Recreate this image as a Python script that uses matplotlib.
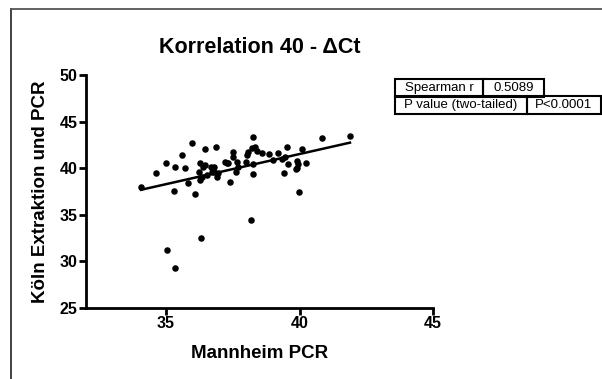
import numpy as np
import matplotlib
matplotlib.use("Agg")
import matplotlib.pyplot as plt
from matplotlib.patches import Rectangle
from matplotlib.lines import Line2D

plt.rcParams['font.family'] = ['Liberation Sans', 'DejaVu Sans']

# ---- data ----
mannheim = [34.06, 34.61, 34.99, 35.33, 35.30, 35.60, 35.70, 35.81, 35.97, 36.09,
            35.05, 35.35, 36.31, 38.17, 39.98, 36.46, 36.88, 36.27, 36.24, 36.40,
            36.34, 36.27, 36.52, 36.69, 36.81, 36.71, 36.90, 36.96, 37.21, 37.33,
            37.40, 37.52, 37.52, 37.65, 37.68, 37.61, 37.98, 38.02, 38.08, 38.27,
            38.21, 38.33, 38.40, 38.27, 38.27, 38.61, 38.86, 39.02, 39.18, 39.33,
            39.46, 39.54, 39.55, 39.41, 39.92, 39.94, 39.89, 39.86, 40.08, 40.25,
            40.84, 41.89, 36.45, 36.80, 37.27]
koeln = [37.95, 39.45, 40.56, 40.13, 37.52, 41.38, 39.99, 38.41, 42.67, 37.20,
         31.26, 29.33, 32.54, 34.44, 37.45, 42.03, 42.27, 40.53, 39.63, 40.16,
         39.09, 38.73, 39.27, 40.16, 40.10, 39.63, 39.09, 39.45, 40.70, 40.53,
         38.55, 41.77, 41.23, 40.70, 40.16, 39.63, 40.63, 41.42, 41.77, 43.38,
         42.13, 42.24, 41.88, 40.45, 39.38, 41.60, 41.52, 40.88, 41.66, 40.95,
         41.23, 42.24, 40.42, 39.45, 40.77, 40.42, 39.99, 39.88, 42.03, 40.59,
         43.27, 43.42, 40.35, 39.55, 40.60]
x_ticks = [35, 40, 45]
y_ticks = [25, 30, 35, 40, 45, 50]
table_rows = [["Spearman r", "0.5089"], ["P value (two-tailed)", "P<0.0001"]]

W, H = 602, 379
fig = plt.figure(figsize=(W / 100, H / 100), dpi=100)
fig.patch.set_facecolor('white')

def fx(px):
    return px / W

def fy(py):
    return 1 - py / H

ax = fig.add_axes([fx(86), fy(308), fx(433) - fx(86), fy(75) - fy(308)])
ax.scatter(mannheim, koeln, s=22, color='black', zorder=3, linewidths=0)

xs = np.array(mannheim)
ys = np.array(koeln)
slope, intercept = np.polyfit(xs, ys, 1)
lx = np.array([xs.min(), xs.max()])
ax.plot(lx, slope * lx + intercept, color='black', lw=1.8, zorder=2)

ax.set_xlim(32, 45)
ax.set_ylim(25, 50)
ax.set_xticks(x_ticks)
ax.set_yticks(y_ticks)
for s in ['top', 'right']:
    ax.spines[s].set_visible(False)
for s in ['left', 'bottom']:
    ax.spines[s].set_linewidth(2)
ax.tick_params(width=2, length=5, labelsize=11.5, pad=1)
for lab in ax.get_xticklabels() + ax.get_yticklabels():
    lab.set_fontweight('bold')
ax.set_xlabel('Mannheim PCR', fontsize=13.5, fontweight='bold', labelpad=10)
ax.set_ylabel('Köln Extraktion und PCR', fontsize=13.5, fontweight='bold', labelpad=8)
ax.set_title('Korrelation 40 - ΔCt', fontsize=15.5, fontweight='bold', pad=16)

# figure frame (left and top)
fig.add_artist(Line2D([fx(11), fx(11)], [fy(9), 0], color='#333333', lw=1.3))
fig.add_artist(Line2D([fx(11), 1], [fy(9), fy(9)], color='#555555', lw=1.3))

# results table
rows_y = [(79, 96.5), (96.5, 114)]
cols = [[395, 483, 544], [395, 527, 601]]
for r, (y0, y1) in enumerate(rows_y):
    c = cols[r]
    for i in range(2):
        rect = Rectangle((fx(c[i]), fy(y1)), fx(c[i + 1]) - fx(c[i]), fy(y0) - fy(y1),
                         transform=fig.transFigure, fill=False, edgecolor='black', lw=1.5)
        fig.add_artist(rect)
        fig.text(fx((c[i] + c[i + 1]) / 2), fy((y0 + y1) / 2), table_rows[r][i],
                 ha='center', va='center', fontsize=9.5)

fig.savefig('out.png', dpi=100)
